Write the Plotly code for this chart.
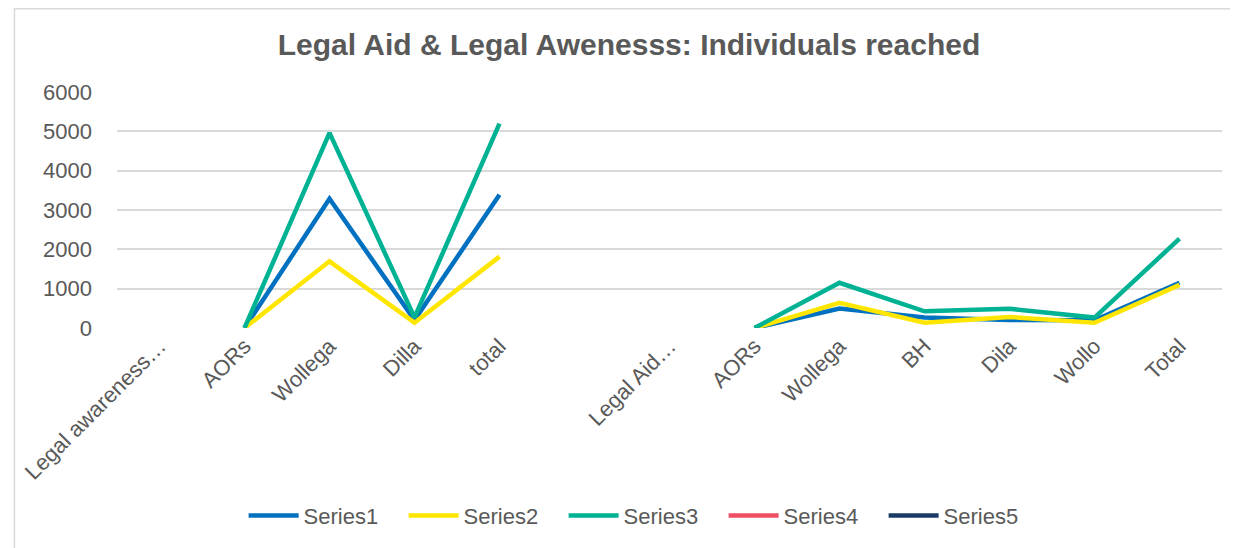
import plotly.graph_objects as go

categories = ["Legal awareness…", "AORs", "Wollega", "Dilla", "total", "",
              "Legal Aid…", "AORs", "Wollega", "BH", "Dila", "Wollo", "Total"]
series1 = [None, 0, 3285, 200, 3390, None, None, 0, 495, 265, 205, 195, 1150]
series2 = [None, 0, 1695, 135, 1815, None, None, 0, 640, 135, 280, 135, 1095]
series3 = [None, 0, 4960, 270, 5195, None, None, 0, 1150, 425, 490, 265, 2270]
series4 = [None] * len(categories)
series5 = [None] * len(categories)

names = ["Series1", "Series2", "Series3", "Series4", "Series5"]
colors = ["#0070C0", "#FFE600", "#00B294", "#F04E63", "#1A3A66"]
all_series = [series1, series2, series3, series4, series5]

W, H = 1230, 540
L, R, T, B = 104, 16, 84, 219.3
pw, ph = W - L - R, H - T - B

xs = list(range(len(categories)))
fig = go.Figure()
for nm, col, vals in zip(names, colors, all_series):
    fig.add_trace(go.Scatter(x=xs, y=vals, name=nm, mode="lines",
                             line=dict(color=col, width=4.5),
                             connectgaps=False))

font_fam = "Liberation Sans, Arial, sans-serif"
fig.update_layout(
    width=W, height=H,
    paper_bgcolor="white", plot_bgcolor="white",
    margin=dict(l=L, r=R, t=T, b=B),
    title=dict(text="<b>Legal Aid & Legal Awenesss: Individuals reached</b>",
               x=621 / W, xanchor="center", y=1 - 36 / H, yanchor="middle",
               font=dict(family=font_fam, size=30, color="#595959")),
    font=dict(family=font_fam, color="#595959"),
    showlegend=True,
    legend=dict(orientation="h", x=(633 - L) / pw, xanchor="center",
                y=(T + ph - 509) / ph, yanchor="middle",
                font=dict(size=22, color="#595959"), itemwidth=50,
                entrywidth=95, traceorder="normal"),
    xaxis=dict(tickmode="array", tickvals=xs, ticktext=categories, tickangle=-45,
               range=[-0.5, len(categories) - 0.5], showgrid=False, zeroline=False,
               showline=False, ticks="", tickfont=dict(size=22, color="#595959")),
    yaxis=dict(range=[0, 6000], dtick=1000, showgrid=True, gridcolor="#D9D9D9",
               gridwidth=1.5, zeroline=False, showline=False, ticks="",
               tickfont=dict(size=22, color="#595959"), ticklabelstandoff=24),
    shapes=[dict(type="rect", xref="paper", yref="paper",
                 x0=(1 - L) / pw, x1=(W + 20 - L) / pw,
                 y0=-(B + 20) / ph, y1=(ph + T - 0.5) / ph,
                 line=dict(color="#D9D9D9", width=1.5), fillcolor="rgba(0,0,0,0)")],
)
fig.write_html("out.html")
